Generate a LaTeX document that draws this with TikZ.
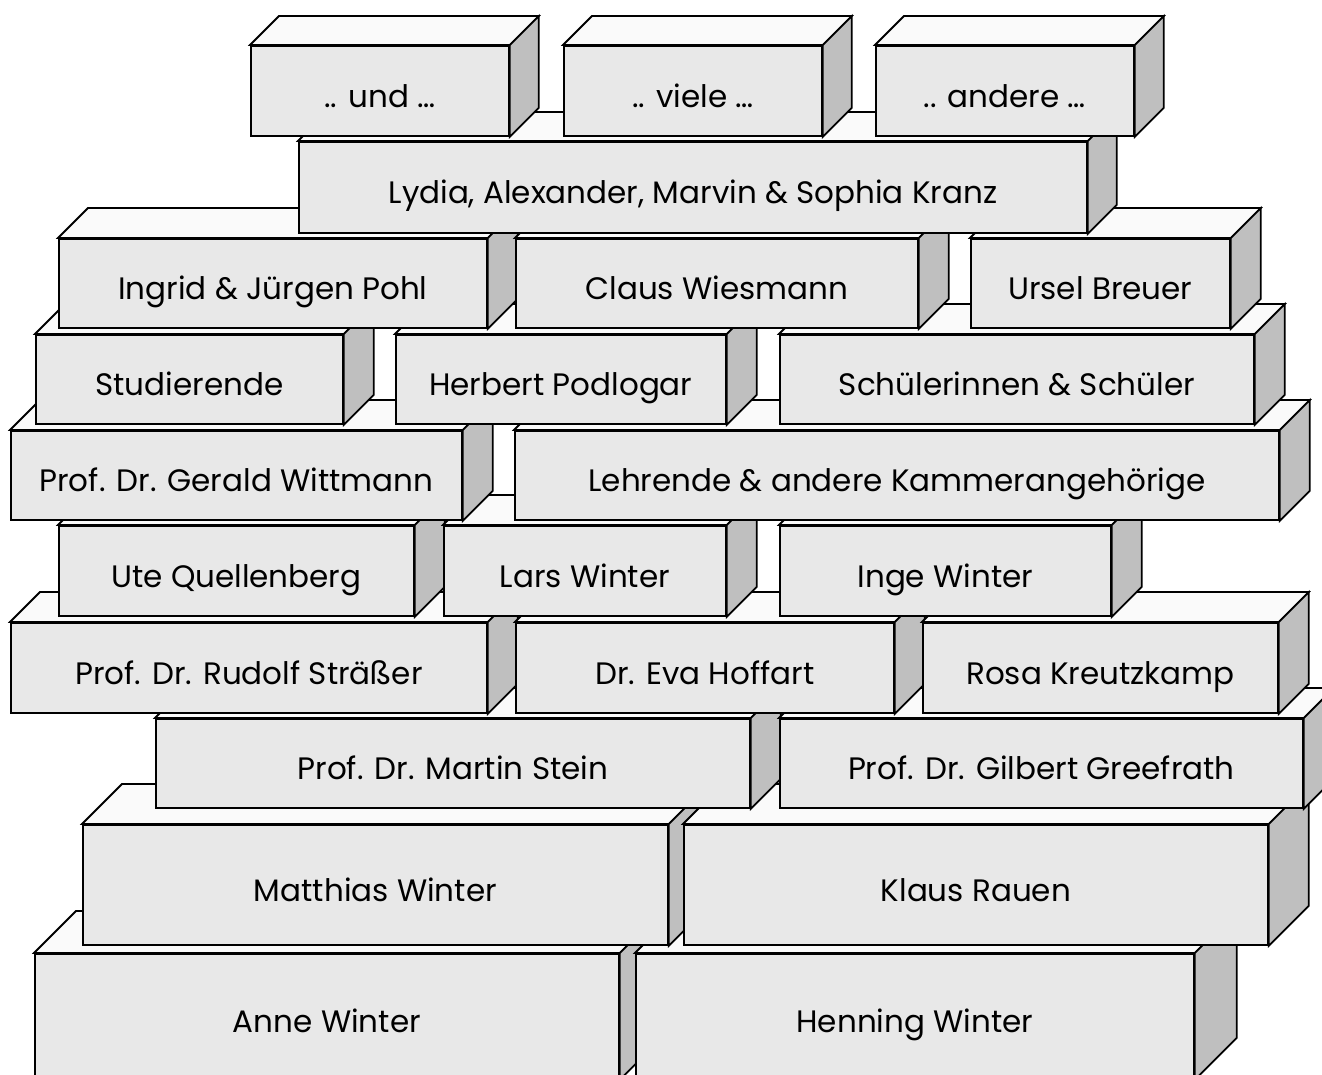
\documentclass[tikz,border=0pt]{standalone}
\usepackage{fontspec}
\setmainfont{Poppins}
\tikzset{
  front/.style={draw,line width=1.8pt,fill=black!9,inner sep=0pt,text height=33pt,text depth=0pt,font=\fontsize{31}{36}\selectfont},
  topface/.style={draw,line width=1.8pt,fill=black!2,line join=miter},
  sideface/.style={draw,line width=1.8pt,fill=black!25,line join=miter}
}
\newcommand{\brick}[7]{%
  \node[front,anchor=north west,minimum width=#4pt,minimum height=#5pt] (#1) at (#2,#3) {#7};
  \draw[topface] (#1.north west)--++(#6pt,#6pt)--([shift={(#6pt,#6pt)}]#1.north east)--(#1.north east)--cycle;
  \draw[sideface] (#1.north east)--++(#6pt,#6pt)--([shift={(#6pt,#6pt)}]#1.south east)--(#1.south east)--cycle;
}

\begin{document}
\begin{tikzpicture}[x=1pt,y=-1pt]
\useasboundingbox (0,0) rectangle (1322,1075);
\clip (0,0) rectangle (1322,1075);
\foreach \n/\x/\w/\t in {anne/34/584/Anne Winter,henning/635/558/Henning Winter}{\brick{\n}{\x}{953}{\w}{125}{42}{\t}}
\foreach \n/\x/\w/\t in {matthias/82/585/Matthias Winter,klaus/683/584/Klaus Rauen}{\brick{\n}{\x}{824}{\w}{120}{40}{\t}}
\foreach \n/\x/\w/\t in {martin/155/594/Prof. Dr. Martin Stein,gilbert/779/523/Prof. Dr. Gilbert Greefrath}{\brick{\n}{\x}{718}{\w}{89}{30}{\t}}
\foreach \n/\x/\w/\t in {rudolf/10/476/Prof. Dr. Rudolf Sträßer,eva/515/378/Dr. Eva Hoffart,rosa/922/355/Rosa Kreutzkamp}{\brick{\n}{\x}{622}{\w}{90}{30}{\t}}
\foreach \n/\x/\w/\t in {ute/58/355/Ute Quellenberg,lars/443/282/Lars Winter,inge/779/331/Inge Winter}{\brick{\n}{\x}{525}{\w}{90}{30}{\t}}
\foreach \n/\x/\w/\t in {gerald/10/451/Prof. Dr. Gerald Wittmann,lehrende/514/764/Lehrende \& andere Kammerangehörige}{\brick{\n}{\x}{430}{\w}{89}{30}{\t}}
\foreach \n/\x/\w/\t in {studierende/35/307/Studierende,herbert/395/330/Herbert Podlogar,schueler/779/474/Schülerinnen \& Schüler}{\brick{\n}{\x}{334}{\w}{89}{30}{\t}}
\foreach \n/\x/\w/\t in {ingrid/58/428/Ingrid \& Jürgen Pohl,claus/515/402/Claus Wiesmann,ursel/970/259/Ursel Breuer}{\brick{\n}{\x}{238}{\w}{89}{30}{\t}}
\brick{kranz}{298}{141}{788}{91}{29}{Lydia, Alexander, Marvin \& Sophia Kranz}
\foreach \n/\x/\t in {und/250/.. und …,viele/563/.. viele …,andere/875/.. andere …}{\brick{\n}{\x}{45}{258}{90}{29}{\t}}
\end{tikzpicture}
\end{document}
